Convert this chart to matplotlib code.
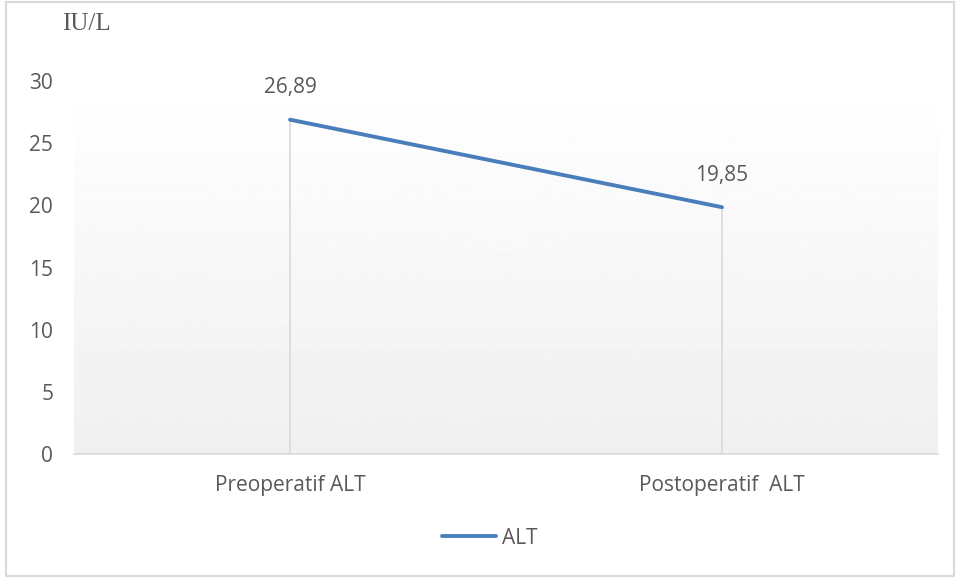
import numpy as np
import matplotlib.pyplot as plt
from matplotlib.patches import Rectangle

categories = ["Preoperatif ALT", "Postoperatif  ALT"]
alt_values = [26.89, 19.85]
value_labels = ["26,89", "19,85"]
y_ticks = [0, 5, 10, 15, 20, 25, 30]

plt.rcParams["font.family"] = ["Open Sans", "DejaVu Sans"]
text_color = "#595959"
line_color = "#4A7EBB"
fs = 15

fig = plt.figure(figsize=(9.58, 5.78), dpi=100)
ax = fig.add_axes([74 / 958, 1 - 454 / 578, 864 / 958, 373 / 578])

x = np.arange(len(categories))

# gradient background of the plot area
grad = np.linspace(1.0, 0.94, 256).reshape(-1, 1)
ax.imshow(grad, cmap="gray", vmin=0, vmax=1, aspect="auto",
          extent=[-0.5, 1.5, 0, 30], origin="upper", zorder=0)

ax.vlines(x, 0, alt_values, color="#D9D9D9", lw=1.2, zorder=1)
ax.plot(x, alt_values, color=line_color, lw=2.8, solid_capstyle="round",
        label="ALT", zorder=3)

for xi, v, lab in zip(x, alt_values, value_labels):
    ax.annotate(lab, (xi, v), xytext=(0, 23), textcoords="offset points",
                ha="center", va="center", fontsize=fs, color=text_color)

ax.set_xlim(-0.5, 1.5)
ax.set_ylim(0, 30)
ax.set_yticks(y_ticks)
ax.set_xticks(x)
ax.set_xticklabels(categories)
ax.tick_params(axis="both", length=0, labelsize=fs, labelcolor=text_color)
ax.tick_params(axis="y", pad=15)
ax.tick_params(axis="x", pad=15)

for side in ["top", "right", "left"]:
    ax.spines[side].set_visible(False)
ax.spines["bottom"].set_color("#D9D9D9")
ax.spines["bottom"].set_linewidth(1.2)

fig.text(62 / 958, 1 - 24 / 578, "IU/L", family="Liberation Serif",
         fontsize=18, color=text_color, va="center", ha="left")

ax.legend(loc="center", bbox_to_anchor=(490 / 958, 1 - 538 / 578),
          bbox_transform=fig.transFigure, frameon=False, fontsize=fs,
          labelcolor=text_color, handlelength=2.6, handletextpad=0.3)

fig.patches.append(Rectangle((6 / 958, 2 / 578), 948 / 958, 574 / 578,
                             transform=fig.transFigure, fill=False,
                             edgecolor="#D9D9D9", lw=1.5))

fig.savefig("out.png", dpi=100)
